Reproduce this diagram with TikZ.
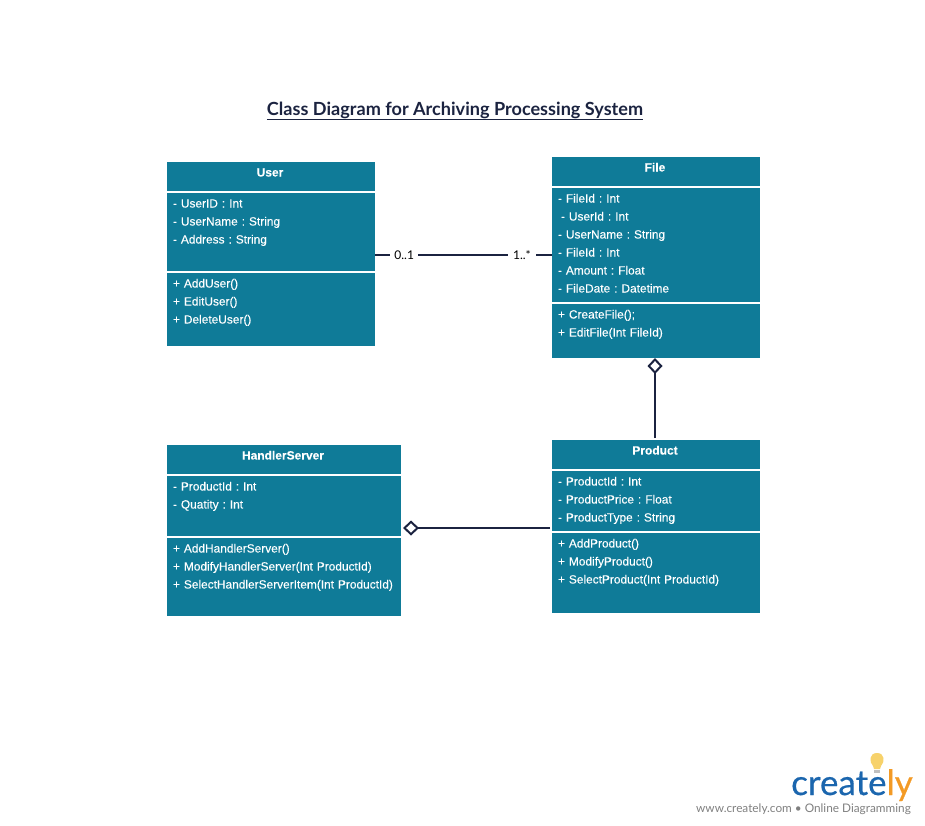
\documentclass[tikz,border=0pt]{standalone}
\usepackage{fontspec}
\setmainfont{Liberation Sans}[FakeBold=0.12]
\newfontfamily\latofont{Lato}
\newfontfamily\logofont{Lato}[FakeBold=0.5]
\usetikzlibrary{arrows.meta}
\definecolor{classteal}{HTML}{0F7B98}
\definecolor{linenavy}{HTML}{1B2340}
\definecolor{logoblue}{HTML}{1B66AE}
\definecolor{logoorange}{HTML}{F39A25}
\definecolor{bulbyellow}{HTML}{F7D26B}
\definecolor{taggrey}{HTML}{7F7F7F}
\frenchspacing
\tikzset{
  classhead/.style={anchor=north west,fill=classteal,text=white,inner sep=0pt,outer sep=0pt,
    font=\fontsize{12}{18}\selectfont\bfseries,text height=14.5pt,text depth=14.5pt},
  compart/.style={anchor=north west,fill=classteal,text=white,inner xsep=6pt,inner ysep=0pt,outer sep=0pt,
    font=\fontsize{11.9}{18}\selectfont,align=left,text height=14.5pt},
  assoc/.style={draw=linenavy,line width=2pt},
  aggreg/.style={assoc,-{Diamond[open,length=16pt,width=15pt,line width=2pt]},shorten >=1pt,shorten <=2pt},
  multlabel/.style={fill=white,inner sep=0pt,minimum width=28pt,minimum height=14pt,font=\latofont\fontsize{12}{14}\selectfont,text=black}
}
\begin{document}
\begin{tikzpicture}[x=1pt,y=-1pt]
\useasboundingbox (0,0) rectangle (925,825);
\path (455,115.5) node[anchor=base,inner sep=0pt,text=linenavy,font=\latofont\fontsize{18.1}{22}\selectfont\bfseries] (title) {Class Diagram for Archiving Processing System};
\draw[linenavy,line width=1pt] ([yshift=-4pt]title.base west) -- ([yshift=-4pt]title.base east);

\path (167,162) node[classhead,text width=208pt,align=center] (userH) {\hspace*{-2pt}User};
\path (167,193) node[compart,text width=196pt,text depth=63.5pt] (userA) {- UserID : Int\\- UserName : String\\- Address : String};
\path (167,273) node[compart,text width=196pt,text depth=58.5pt] (userO) {+ AddUser()\\+ EditUser()\\+ DeleteUser()};

\path (552,157) node[classhead,text width=208pt,align=center] (fileH) {\hspace*{-2pt}File};
\path (552,188) node[compart,text width=196pt,text depth=99.5pt] (fileA) {- FileId : Int\\\hspace*{3pt}- UserId : Int\\- UserName : String\\- FileId : Int\\- Amount : Float\\- FileDate : Datetime};
\path (552,304) node[compart,text width=196pt,text depth=39.5pt] (fileO) {+ CreateFile();\\+ EditFile(Int FileId)};

\path (552,440) node[classhead,text width=208pt,align=center] (prodH) {\hspace*{-2pt}Product};
\path (552,471) node[compart,text width=196pt,text depth=45.5pt] (prodA) {- ProductId : Int\\- ProductPrice : Float\\- ProductType : String};
\path (552,533) node[compart,text width=196pt,text depth=65.5pt] (prodO) {+ AddProduct()\\+ ModifyProduct()\\+ SelectProduct(Int ProductId)};

\path (167,445) node[classhead,text width=234pt,align=center] (handH) {\hspace*{-2pt}HandlerServer};
\path (167,476) node[compart,text width=222pt,text depth=45.5pt] (handA) {- ProductId : Int\\- Quatity : Int};
\path (167,538) node[compart,text width=222pt,text depth=63.5pt] (handO) {+ AddHandlerServer()\\+ ModifyHandlerServer(Int ProductId)\\+ SelectHandlerServerItem(Int ProductId)};

\draw[assoc] ([yshift=-23pt]userA.east) -- node[multlabel,pos=0.165] (mult01) {0..1} node[multlabel,pos=0.83] (mult1s) {1..*} ([yshift=-10pt]fileA.west);
\draw[aggreg,shorten >=0pt] ([xshift=-1pt]prodH.north) -- ([xshift=-1pt]fileO.south);
\draw[aggreg,shorten >=2pt] ([yshift=-27pt]prodA.west) -- ([yshift=-22pt]handA.east);

\fill[bulbyellow] (877,753) .. controls (869,753) and (869,762) .. (873,766) -- (874,769) -- (880,769) -- (881,766) .. controls (885,762) and (885,753) .. (877,753) -- cycle;
\fill[lightgray] (874,770) rectangle (880,773);
\path (791,795) node[anchor=base west,inner sep=0pt,font=\logofont\fontsize{35}{40}\selectfont] (logo) {\textcolor{logoblue}{create}\textcolor{logoorange}{ly}};
\path (911,812) node[anchor=base east,inner sep=0pt,text=taggrey,font=\latofont\fontsize{11.8}{14}\selectfont] (tagline) {www.creately.com • Online Diagramming};
\end{tikzpicture}
\end{document}
